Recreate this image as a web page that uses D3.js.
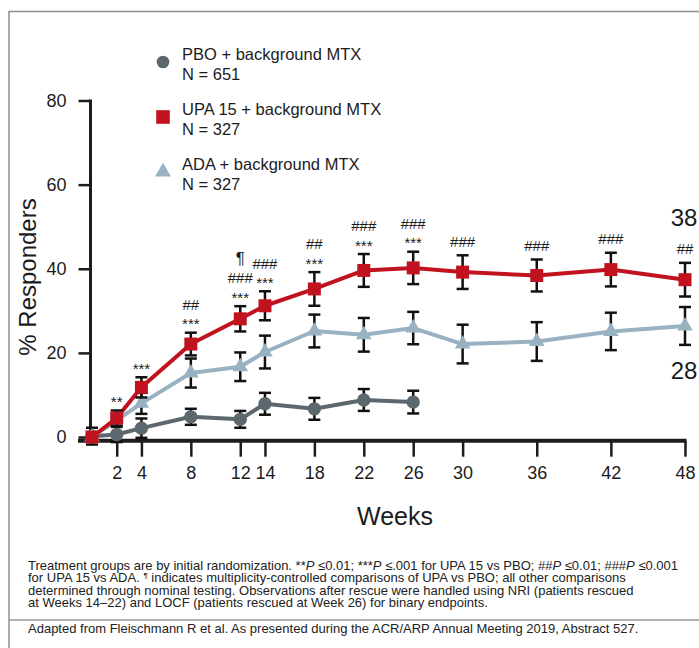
<!DOCTYPE html>
<html><head><meta charset="utf-8">
<script src="https://cdn.jsdelivr.net/npm/d3@7"></script>
<style>body{margin:0;background:#fff}svg{display:block}</style>
</head><body><svg id="c" width="699" height="648"></svg>
<script>
// ---------- data ----------
const seriesNames = ["PBO + background MTX", "UPA 15 + background MTX", "ADA + background MTX"];
const seriesN = ["N = 651", "N = 327", "N = 327"];
const pboWeeks = [0, 2, 4, 8, 12, 14, 18, 22, 26];
const pboValues = [0.2, 0.6, 2.1, 4.8, 4.2, 7.9, 6.7, 8.8, 8.3];
const pboErrors = [2.0, 1.8, 2.3, 1.9, 2.0, 2.6, 2.6, 2.6, 2.7];
const upaWeeks = [0, 2, 4, 8, 12, 14, 18, 22, 26, 30, 36, 42, 48];
const upaValues = [0, 4.5, 11.8, 22.1, 28.1, 31.2, 35.2, 39.6, 40.2, 39.2, 38.4, 39.8, 37.4];
const upaErrors = [0, 1.8, 2.4, 2.7, 3.0, 3.45, 4.0, 3.9, 3.85, 4.0, 3.8, 4.0, 4.0];
const adaWeeks = [0, 4, 8, 12, 14, 18, 22, 26, 30, 36, 42, 48];
const adaValues = [0, 8.0, 15.2, 16.7, 20.2, 25.2, 24.3, 25.9, 22.1, 22.7, 25.1, 26.4];
const adaErrors = [0, 2.5, 3.45, 3.4, 3.9, 3.9, 4.0, 3.85, 4.6, 4.6, 4.45, 4.5];
const xTicks = [2, 4, 8, 12, 14, 18, 22, 26, 30, 36, 42, 48];
const yTicks = [0, 20, 40, 60, 80];
const annotWeeks = [2, 4, 8, 12, 14, 18, 22, 26, 30, 36, 42, 48];
const annotLabels = [["**"], ["***"], ["##", "***"], ["¶", "###", "***"], ["###", "***"], ["##", "***"],
  ["###", "***"], ["###", "***"], ["###"], ["###"], ["###"], ["##"]];
const endLabels = ["38", "28"];
const xTitle = "Weeks";
const yTitle = "% Responders";
const footnoteLines = [
  "Treatment groups are by initial randomization. **{P} ≤0.01; ***{P} ≤.001 for UPA 15 vs PBO; ##{P} ≤0.01; ###{P} ≤0.001",
  "for UPA 15 vs ADA. [¶] indicates multiplicity-controlled comparisons of UPA vs PBO; all other comparisons",
  "determined through nominal testing. Observations after rescue were handled using NRI (patients rescued",
  "at Weeks 14–22) and LOCF (patients rescued at Week 26) for binary endpoints."
];
const sourceLine = "Adapted from Fleischmann R et al. As presented during the ACR/ARP Annual Meeting 2019, Abstract 527.";

// ---------- setup ----------
const svg = d3.select("#c");
const FONT = "'Liberation Sans', Arial, sans-serif";
const NARROW = "'Liberation Sans Narrow', 'Arial Narrow', 'Liberation Sans', sans-serif";
const INK = "#1c1c1c";
const colors = { pbo: "#5c676e", upa: "#c1131f", ada: "#98b2c1" };

const x = d3.scaleLinear().domain([0, 48]).range([92, 685]);
const y = d3.scaleLinear().domain([0, 80]).range([437, 100.5]);

// frame
svg.append("line").attr("x1", 9).attr("x2", 699).attr("y1", 11.5).attr("y2", 11.5)
  .attr("stroke", "#8e8e8e").attr("stroke-width", 1.5);
svg.append("line").attr("x1", 9).attr("x2", 9).attr("y1", 11).attr("y2", 648)
  .attr("stroke", "#8e8e8e").attr("stroke-width", 1.5);

// ---------- axes ----------
const axisY0 = y(0) + 3.7;
const gy = svg.append("g").attr("transform", "translate(90.5,0)")
  .call(d3.axisLeft(y).tickValues(yTicks).tickSize(12).tickPadding(12).tickSizeOuter(0));
gy.select(".domain").remove();
gy.append("line").attr("x1", 0).attr("x2", 0).attr("y1", y(80) - 1).attr("y2", axisY0)
  .attr("stroke", INK).attr("stroke-width", 3);
gy.selectAll(".tick line").attr("stroke", INK).attr("stroke-width", 2.5);
gy.selectAll(".tick text").attr("font-family", FONT).attr("font-size", 18).attr("fill", INK);

const gx = svg.append("g").attr("transform", `translate(0,${axisY0})`)
  .call(d3.axisBottom(x).tickValues(xTicks).tickSize(16).tickPadding(10).tickSizeOuter(0));
gx.select(".domain").remove();
gx.append("line").attr("x1", x(0) - 14).attr("x2", x(48) + 1.5).attr("y1", 0).attr("y2", 0)
  .attr("stroke", INK).attr("stroke-width", 4);
gx.selectAll(".tick line").attr("stroke", INK).attr("stroke-width", 2.5);
gx.selectAll(".tick text").attr("font-family", FONT).attr("font-size", 18).attr("fill", INK);

svg.append("text").attr("x", 395).attr("y", 525).attr("text-anchor", "middle")
  .attr("font-family", FONT).attr("font-size", 25).attr("fill", INK).text(xTitle);
svg.append("text").attr("transform", "translate(36,277) rotate(-90)").attr("text-anchor", "middle")
  .attr("font-family", FONT).attr("font-size", 24).attr("fill", INK).text(yTitle);

// ---------- series ----------
function mk(weeks, vals, errs) { return weeks.map((w, i) => ({ w, v: vals[i], e: errs[i] })); }
const series = [
  { key: "pbo", data: mk(pboWeeks, pboValues, pboErrors), sym: d3.symbolCircle, size: 140 },
  { key: "ada", data: mk(adaWeeks, adaValues, adaErrors), sym: d3.symbolTriangle, size: 105 },
  { key: "upa", data: mk(upaWeeks, upaValues, upaErrors), sym: d3.symbolSquare, size: 169 }
];
const line = d3.line().x(d => x(d.w)).y(d => y(d.v));
const cap = 6;
series.forEach(s => {
  const g = svg.append("g");
  g.append("path").datum(s.data).attr("d", line).attr("fill", "none")
    .attr("stroke", colors[s.key]).attr("stroke-width", 4).attr("stroke-linejoin", "round");
  const eb = g.selectAll(".eb").data(s.data.filter(d => d.e > 0)).join("g")
    .attr("stroke", "#111").attr("stroke-width", 2.5).attr("fill", "none");
  eb.append("line").attr("x1", d => x(d.w)).attr("x2", d => x(d.w))
    .attr("y1", d => y(d.v + d.e)).attr("y2", d => y(d.v - d.e));
  eb.append("line").attr("x1", d => x(d.w) - cap).attr("x2", d => x(d.w) + cap)
    .attr("y1", d => y(d.v + d.e)).attr("y2", d => y(d.v + d.e));
  eb.append("line").attr("x1", d => x(d.w) - cap).attr("x2", d => x(d.w) + cap)
    .attr("y1", d => y(d.v - d.e)).attr("y2", d => y(d.v - d.e));
  g.selectAll(".m").data(s.data).join("path")
    .attr("transform", d => `translate(${x(d.w)},${y(d.v)})`)
    .attr("d", d3.symbol().type(s.sym).size(s.size)).attr("fill", colors[s.key]);
});

// ---------- annotations ----------
const upaData = series[2].data;
annotWeeks.forEach((w, i) => {
  const d = upaData.find(p => p.w === w);
  const top = y(d.v + d.e);
  const labels = annotLabels[i];
  let c = top - (labels[labels.length - 1].startsWith("*") ? 11 : 14);
  for (let k = labels.length - 1; k >= 0; k--) {
    const t = labels[k];
    const isStar = t.startsWith("*");
    const base = c + (isStar ? 7.5 : 5.3);
    svg.append("text").attr("x", x(w)).attr("y", base).attr("text-anchor", "middle")
      .attr("font-family", FONT).attr("font-size", t === "¶" ? 17 : 15).attr("fill", INK).text(t);
    if (k > 0) c -= (labels[k - 1] === "¶" ? 19 : 17);
    if (k === 0) d.annotTop = c;
  }
});
// end values
const lastUpa = upaData[upaData.length - 1];
const lastAda = series[1].data[series[1].data.length - 1];
svg.append("text").attr("x", x(48) - 1).attr("y", lastUpa.annotTop - 31 + 8.5).attr("text-anchor", "middle")
  .attr("font-family", FONT).attr("font-size", 24).attr("fill", INK).text(endLabels[0]);
svg.append("text").attr("x", x(48) - 1).attr("y", y(lastAda.v - lastAda.e) + 26 + 8.5).attr("text-anchor", "middle")
  .attr("font-family", FONT).attr("font-size", 24).attr("fill", INK).text(endLabels[1]);

// ---------- legend ----------
const legendOrder = [{ key: "pbo", sym: d3.symbolCircle, size: 125 }, { key: "upa", sym: d3.symbolSquare, size: 185 }, { key: "ada", sym: d3.symbolTriangle, size: 110 }];
legendOrder.forEach((l, i) => {
  const my = 62 + i * 55;
  svg.append("path").attr("transform", `translate(163,${my})`)
    .attr("d", d3.symbol().type(l.sym).size(l.size)).attr("fill", colors[l.key]);
  svg.append("text").attr("x", 182).attr("y", my - 2).attr("font-family", FONT).attr("font-size", 16.5)
    .attr("fill", INK).text(seriesNames[i]);
  svg.append("text").attr("x", 182).attr("y", my + 18).attr("font-family", FONT).attr("font-size", 16.5)
    .attr("fill", INK).text(seriesN[i]);
});

// ---------- footnotes ----------
const FN = 13;
footnoteLines.forEach((ln, i) => {
  const t = svg.append("text").attr("x", 28).attr("y", 570 + i * 12.3)
    .attr("font-family", NARROW).attr("font-size", FN).attr("fill", "#222");
  ln.split(/(\{P\}|\[¶\])/).forEach(seg => {
    if (!seg) return;
    if (seg === "{P}") t.append("tspan").attr("font-style", "italic").text("P");
    else if (seg === "[¶]") t.append("tspan").attr("font-size", 8).attr("baseline-shift", "super").text("¶");
    else t.append("tspan").text(seg);
  });
  const maxW = 660;
  if (t.node().getComputedTextLength() > maxW) t.attr("textLength", maxW).attr("lengthAdjust", "spacingAndGlyphs");
});
svg.append("line").attr("x1", 9).attr("x2", 699).attr("y1", 620).attr("y2", 620)
  .attr("stroke", "#9a9a9a").attr("stroke-width", 1.5);
svg.append("text").attr("x", 28).attr("y", 633).attr("font-family", NARROW).attr("font-size", FN)
  .attr("fill", "#222").text(sourceLine);
</script></body></html>
